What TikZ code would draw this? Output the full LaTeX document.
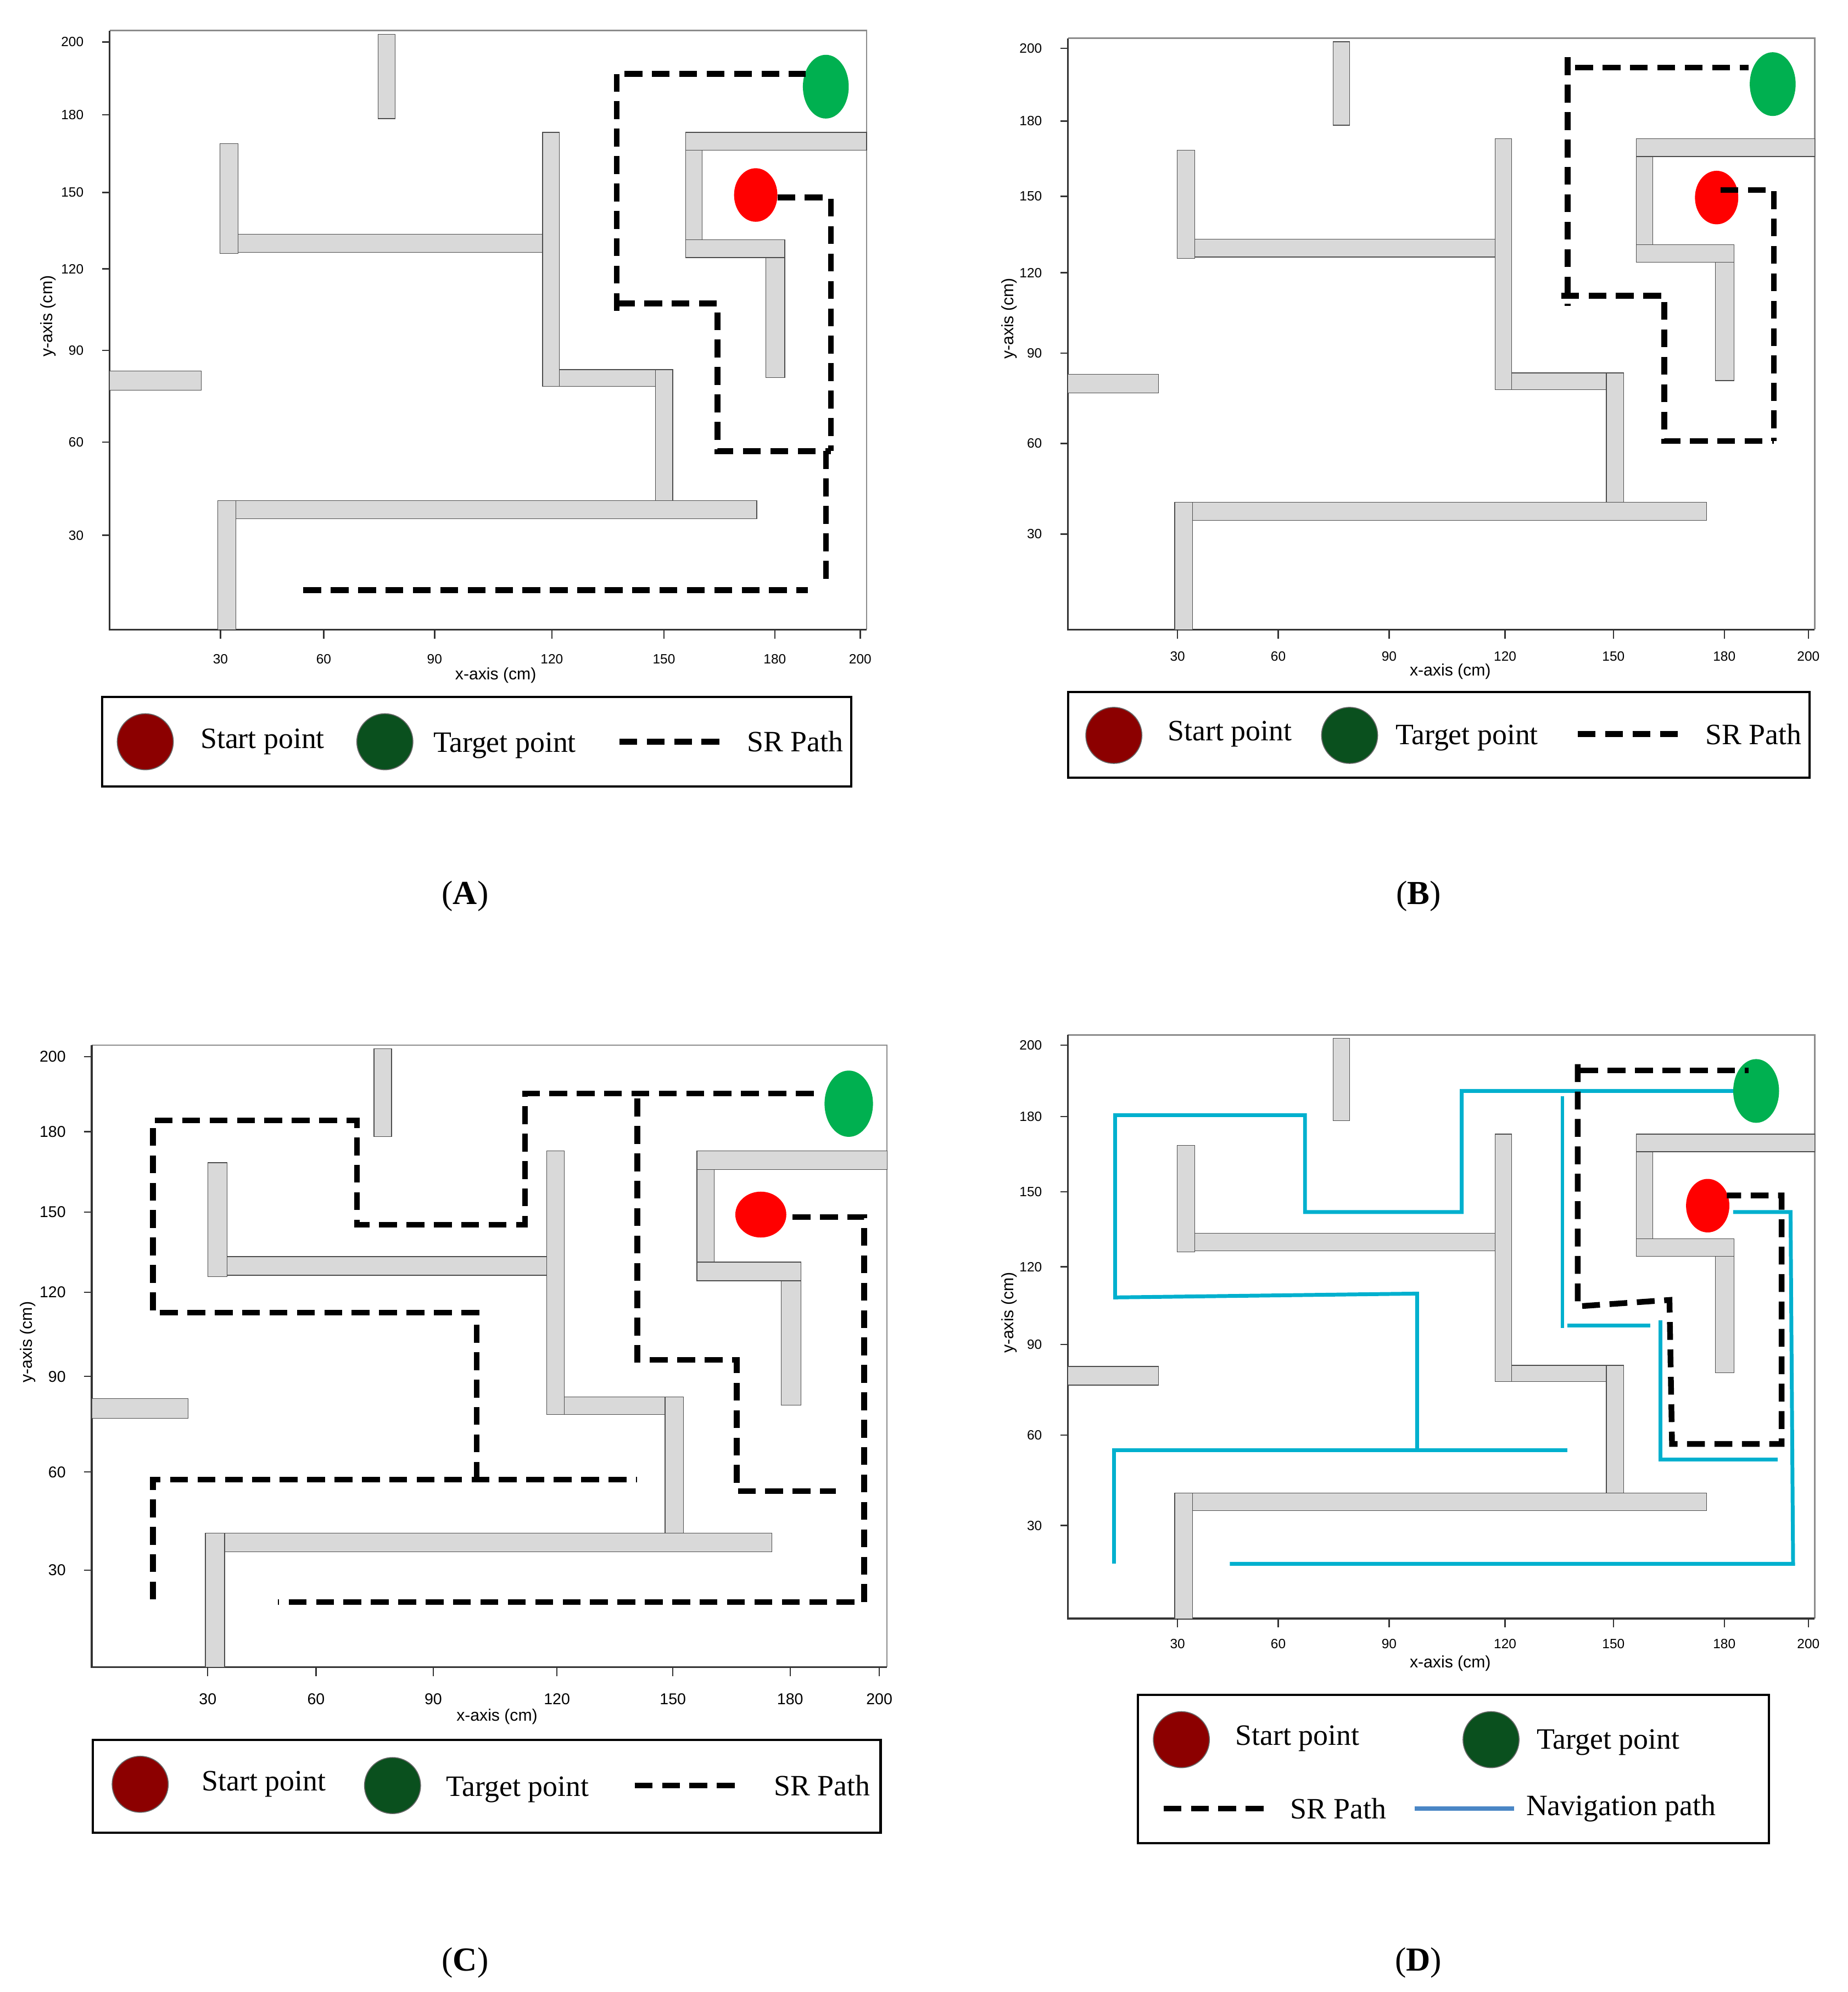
\documentclass[tikz,border=0pt]{standalone}
\usepackage{fontspec}
\setmainfont{Liberation Serif}
\newfontfamily\axfont{Liberation Sans}
\usetikzlibrary{shapes}

\definecolor{wallgray}{RGB}{217,217,217}
\definecolor{startred}{RGB}{255,0,0}
\definecolor{targetgreen}{RGB}{0,176,80}
\definecolor{legred}{RGB}{140,0,0}
\definecolor{leggreen}{RGB}{10,80,30}
\definecolor{navcyan}{RGB}{0,176,206}
\definecolor{navblue}{RGB}{74,134,197}

\tikzset{
  wall/.style={fill=wallgray, draw=black!70, line width=0.15pt},
  srpath/.style={line width=0.45mm, dash pattern=on 1.4mm off 0.75mm},
  navpath/.style={line width=0.3mm, navcyan},
  startpt/.style={ellipse, fill=startred, minimum width=3.4mm, minimum height=4.2mm, inner sep=0pt},
  targetpt/.style={ellipse, fill=targetgreen, minimum width=3.6mm, minimum height=5mm, inner sep=0pt},
  legstart/.style={circle, fill=legred, draw=black!60, line width=0.2pt, minimum size=4.4mm, inner sep=0pt},
  legtarget/.style={circle, fill=leggreen, draw=black!60, line width=0.2pt, minimum size=4.4mm, inner sep=0pt},
  legbox/.style={draw, line width=0.5pt},
  legtext/.style={font=\fontsize{6.6}{7.5}\selectfont},
  ticklab/.style={font=\axfont\fontsize{3}{3.5}\selectfont},
  axlab/.style={font=\axfont\fontsize{3.7}{4}\selectfont},
  caption/.style={font=\fontsize{7.5}{8.5}\selectfont}
}

% maze walls in a unit square mapped to the panel frame
\newcommand{\mazewalls}[4]{%
  \begin{scope}[shift={(#1,#2)}, xscale=#3, yscale=-#4]
    \draw[wall] (.355,.853) rectangle (.377,.994);
    \draw[wall] (.146,.628) rectangle (.170,.811);
    \draw[wall] (.170,.630) rectangle (.572,.660);
    \draw[wall] (.572,.406) rectangle (.594,.830);
    \draw[wall] (.594,.406) rectangle (.721,.434);
    \draw[wall] (.721,.215) rectangle (.744,.434);
    \draw[wall] (.167,.185) rectangle (.855,.215);
    \draw[wall] (.143,0) rectangle (.167,.215);
    \draw[wall] (0,.400) rectangle (.121,.432);
    \draw[wall] (.761,.800) rectangle (1,.830);
    \draw[wall] (.761,.651) rectangle (.783,.800);
    \draw[wall] (.761,.621) rectangle (.892,.651);
    \draw[wall] (.867,.421) rectangle (.892,.621);
  \end{scope}}

% frame and axes: left, bottom, right, top
\newcommand{\mazeframe}[4]{%
  \draw[black!45, line width=0.3pt] (#1,#4) -- (#3,#4) -- (#3,#2);
  \draw[black!80, line width=0.4pt] (#1,#4) -- (#1,#2) -- (#3,#2);}

\begin{document}
\begin{tikzpicture}[x=0.1mm, y=-0.1mm]
\useasboundingbox (0,0) rectangle (1450,1563);

% ---------- panel A ----------
\mazeframe{86}{494}{680}{24}
\mazewalls{86}{494}{594}{470}
\foreach \xp/\lab in {173/30, 254/60, 341/90, 433/120, 521/150, 608/180, 675/200}
  {\draw[black!80, line width=0.3pt] (\xp,494) -- (\xp,501);
   \node[ticklab] at (\xp,517) {\lab};}
\foreach \yp/\lab in {33/200, 90/180, 151/150, 211/120, 275/90, 347/60, 420/30}
  {\draw[black!80, line width=0.3pt] (80,\yp) -- (86,\yp);
   \node[ticklab, anchor=east] at (78,\yp) {\lab};}
\node[axlab] at (389,530) {x-axis (cm)};
\node[axlab, rotate=90] at (38,248) {y-axis (cm)};
\node[targetpt] (tgtA) at (648,68) {};
\node[startpt] (stA) at (593,153) {};
\draw[srpath] (490,58) -- (632,58);
\draw[srpath] (484,58) -- (484,245);
\draw[srpath] (484,238) -- (563,238) -- (563,354) -- (652,354);
\draw[srpath] (610,155) -- (652,155) -- (652,354);
\draw[srpath] (648,354) -- (648,460);
\draw[srpath] (238,463) -- (634,463);
\draw[legbox] (80,547) rectangle (668,617);
\node[legstart] (lsA) at (114,582) {};
\node[legtext] at (206,582) {Start point};
\node[legtarget] (ltA) at (302,582) {};
\node[legtext] at (396,585) {Target point};
\draw[srpath] (486,582) -- (566,582);
\node[legtext] at (624,582) {SR Path};
\node[caption] at (365,703) {(\textbf{A})};

% ---------- panel B ----------
\mazeframe{838}{494}{1424}{30}
\mazewalls{838}{494}{586}{464}
\foreach \xp/\lab in {924/30, 1003/60, 1090/90, 1181/120, 1266/150, 1353/180, 1419/200}
  {\draw[black!80, line width=0.3pt] (\xp,494) -- (\xp,501);
   \node[ticklab] at (\xp,515) {\lab};}
\foreach \yp/\lab in {38/200, 95/180, 154/150, 214/120, 277/90, 348/60, 419/30}
  {\draw[black!80, line width=0.3pt] (832,\yp) -- (838,\yp);
   \node[ticklab, anchor=east] at (830,\yp) {\lab};}
\node[axlab] at (1138,527) {x-axis (cm)};
\node[axlab, rotate=90] at (792,250) {y-axis (cm)};
\node[targetpt] (tgtB) at (1391,66) {};
\node[startpt] (stB) at (1347,155) {};
\draw[srpath] (1236,53) -- (1372,53);
\draw[srpath] (1230,45) -- (1230,240);
\draw[srpath] (1225,232) -- (1306,232) -- (1306,346) -- (1392,346);
\draw[srpath] (1350,149) -- (1392,149) -- (1392,346);
\draw[legbox] (838,543) rectangle (1420,610);
\node[legstart] (lsB) at (874,577) {};
\node[legtext] at (965,576) {Start point};
\node[legtarget] (ltB) at (1059,577) {};
\node[legtext] at (1151,579) {Target point};
\draw[srpath] (1238,576) -- (1318,576);
\node[legtext] at (1376,576) {SR Path};
\node[caption] at (1113,703) {(\textbf{B})};

% ---------- panel C ----------
\mazeframe{72}{1308}{696}{820}
\mazewalls{72}{1308}{624}{488}
\foreach \xp/\lab in {163/30, 248/60, 340/90, 437/120, 528/150, 620/180, 690/200}
  {\draw[black!80, line width=0.3pt] (\xp,1308) -- (\xp,1315);
   \node[ticklab, font=\axfont\fontsize{3.5}{4}\selectfont] at (\xp,1333) {\lab};}
\foreach \yp/\lab in {829/200, 888/180, 951/150, 1014/120, 1080/90, 1155/60, 1232/30}
  {\draw[black!80, line width=0.3pt] (66,\yp) -- (72,\yp);
   \node[ticklab, anchor=east, font=\axfont\fontsize{3.5}{4}\selectfont] at (64,\yp) {\lab};}
\node[axlab] at (390,1347) {x-axis (cm)};
\node[axlab, rotate=90] at (22,1053) {y-axis (cm)};
\node[targetpt, minimum width=3.8mm, minimum height=5.2mm] (tgtC) at (666,866) {};
\node[startpt, minimum height=3.6mm, minimum width=4mm] (stC) at (597,953) {};
\draw[srpath] (120,1255) -- (120,1161) -- (500,1161);
\draw[srpath] (374,1161) -- (374,1030) -- (120,1030) -- (120,879) -- (280,879)
  -- (280,961) -- (412,961) -- (412,858) -- (640,858);
\draw[srpath] (500,862) -- (500,1067) -- (578,1067) -- (578,1170) -- (656,1170);
\draw[srpath] (622,955) -- (678,955) -- (678,1257) -- (218,1257);
\draw[legbox] (73,1365) rectangle (691,1438);
\node[legstart] (lsC) at (110,1400) {};
\node[legtext] at (207,1400) {Start point};
\node[legtarget] (ltC) at (308,1401) {};
\node[legtext] at (406,1404) {Target point};
\draw[srpath] (498,1401) -- (582,1401);
\node[legtext] at (645,1401) {SR Path};
\node[caption] at (365,1540) {(\textbf{C})};

% ---------- panel D ----------
\mazeframe{838}{1270}{1424}{812}
\mazewalls{838}{1270}{586}{458}
\foreach \xp/\lab in {924/30, 1003/60, 1090/90, 1181/120, 1266/150, 1353/180, 1419/200}
  {\draw[black!80, line width=0.3pt] (\xp,1270) -- (\xp,1277);
   \node[ticklab] at (\xp,1290) {\lab};}
\foreach \yp/\lab in {820/200, 876/180, 935/150, 994/120, 1055/90, 1126/60, 1197/30}
  {\draw[black!80, line width=0.3pt] (832,\yp) -- (838,\yp);
   \node[ticklab, anchor=east] at (830,\yp) {\lab};}
\node[axlab] at (1138,1305) {x-axis (cm)};
\node[axlab, rotate=90] at (792,1030) {y-axis (cm)};
\draw[navpath] (874,1227) -- (874,1138) -- (1230,1138);
\draw[navpath] (1112,1138) -- (1112,1015) -- (875,1018) -- (875,875) -- (1024,875)
  -- (1024,951) -- (1147,951) -- (1147,856) -- (1366,856);
\draw[navpath] (1226,860) -- (1226,1042);
\draw[navpath] (1230,1040) -- (1295,1040);
\draw[navpath] (1303,1036) -- (1303,1145) -- (1395,1145);
\draw[navpath] (1360,951) -- (1405,951) -- (1407,1227) -- (965,1227);
\node[targetpt] (tgtD) at (1378,856) {};
\node[startpt] (stD) at (1340,946) {};
\draw[srpath] (1240,840) -- (1372,840);
\draw[srpath] (1238,835) -- (1238,1025) -- (1310,1020) -- (1312,1133) -- (1398,1133)
  -- (1398,938) -- (1355,938);
\draw[legbox] (893,1330) rectangle (1388,1446);
\node[legstart] (lsD) at (927,1365) {};
\node[legtext] at (1018,1364) {Start point};
\node[legtarget] (ltD) at (1170,1365) {};
\node[legtext] at (1262,1367) {Target point};
\draw[srpath] (913,1419) -- (993,1419);
\node[legtext] at (1050,1419) {SR Path};
\draw[navblue, line width=0.35mm] (1110,1419) -- (1188,1419);
\node[legtext] at (1272,1419) {Navigation path};
\node[caption] at (1113,1540) {(\textbf{D})};
\end{tikzpicture}
\end{document}
